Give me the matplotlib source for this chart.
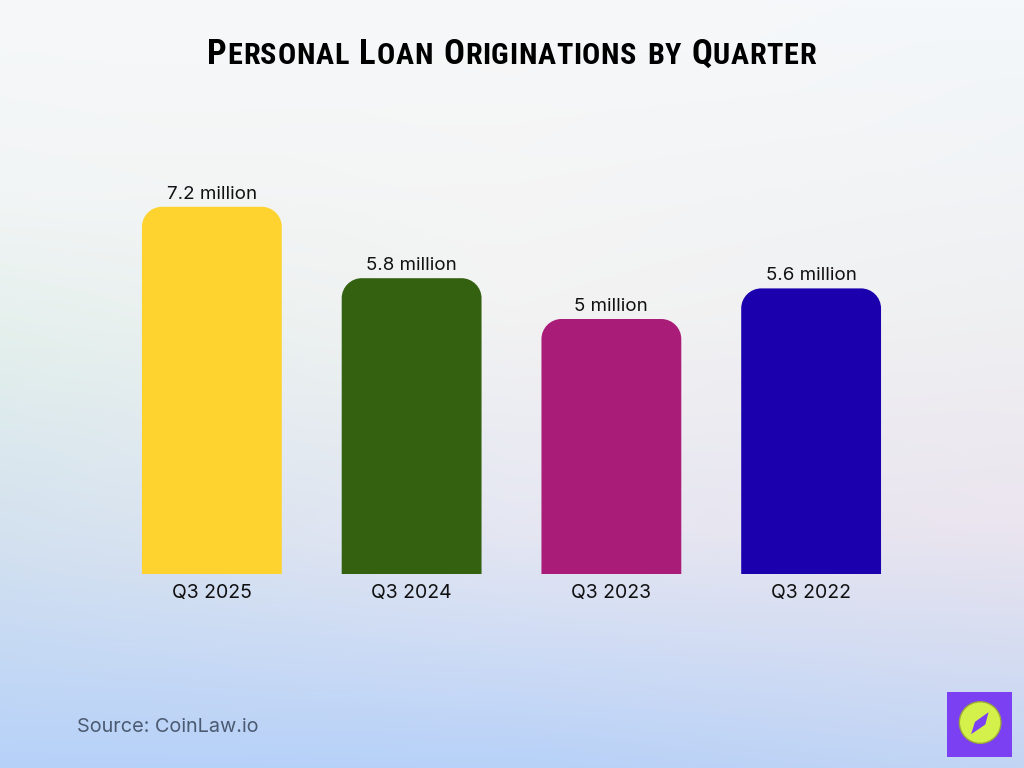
import numpy as np
import matplotlib
matplotlib.use("Agg")
import matplotlib.pyplot as plt
from matplotlib.patches import PathPatch, Circle, Polygon
from matplotlib.path import Path
from matplotlib.colors import to_rgb

# data
quarters = ["Q3 2025", "Q3 2024", "Q3 2023", "Q3 2022"]
originations = [7.2, 5.8, 5.0, 5.6]
value_labels = ["7.2 million", "5.8 million", "5 million", "5.6 million"]
bar_colors = ["#fed330", "#336110", "#a91d79", "#1b00ae"]

title = "Personal Loan Originations by Quarter"
source = "Source: CoinLaw.io"

W, H = 1024, 768
fig = plt.figure(figsize=(W / 100, H / 100), dpi=100)

# background gradient
def column(stops, n):
    ys = np.array([s[0] for s in stops])
    cols = np.array([to_rgb(s[1]) for s in stops])
    t = np.linspace(0, 1, n)
    return np.stack([np.interp(t, ys, cols[:, k]) for k in range(3)], axis=1)

left_col = column([(0, "#f6f8fa"), (0.25, "#f2f5f5"), (0.45, "#e3efec"),
                   (0.72, "#d2e0f0"), (1, "#b6d1f9")], H)
mid_col = column([(0, "#f7f8f9"), (0.4, "#f3f3f3"), (0.7, "#e4e6f2"),
                  (1, "#b7d1f8")], H)
right_col = column([(0, "#f4f8fb"), (0.4, "#eff0f2"), (0.68, "#ebe5ef"),
                    (1, "#c2d5f4")], H)
tx = np.linspace(0, 1, W)[None, :, None]
wl = np.clip(1 - 2 * tx, 0, 1)
wr = np.clip(2 * tx - 1, 0, 1)
wm = 1 - wl - wr
bg = left_col[:, None, :] * wl + mid_col[:, None, :] * wm + right_col[:, None, :] * wr
bg_ax = fig.add_axes([0, 0, 1, 1])
bg_ax.imshow(bg, aspect="auto", extent=[0, 1, 0, 1])
bg_ax.axis("off")

# main bars
ax = fig.add_axes([112 / W, 1 - 574 / H, 799 / W, 424 / H])
ax.patch.set_alpha(0)
x = np.arange(len(quarters))
bars = ax.bar(x, originations, width=0.7, color=bar_colors)
ax.set_xlim(-0.5, 3.5)
ax.set_ylim(0, 424 / 51)

# swap each bar for one with rounded top corners
px_x = 799 / 4
px_y = 51
r = 20
rx = r / px_x
ry = r / px_y
k = 0.55
for b, c in zip(bars, bar_colors):
    b.set_visible(False)
    x0, w, h = b.get_x(), b.get_width(), b.get_height()
    x1 = x0 + w
    verts = [(x0, 0), (x0, h - ry),
             (x0, h - ry + k * ry), (x0 + rx - k * rx, h), (x0 + rx, h),
             (x1 - rx, h),
             (x1 - rx + k * rx, h), (x1, h - ry + k * ry), (x1, h - ry),
             (x1, 0), (x0, 0)]
    codes = [Path.MOVETO, Path.LINETO,
             Path.CURVE4, Path.CURVE4, Path.CURVE4,
             Path.LINETO,
             Path.CURVE4, Path.CURVE4, Path.CURVE4,
             Path.LINETO, Path.CLOSEPOLY]
    ax.add_patch(PathPatch(Path(verts, codes), fc=c, ec="none"))

for xi, v, lab in zip(x, originations, value_labels):
    ax.annotate(lab, (xi, v), xytext=(0, 3), textcoords="offset points",
                ha="center", va="bottom", fontsize=13.5, family="Inter",
                color="#111111")

ax.set_xticks(x)
ax.set_xticklabels(quarters, fontsize=14, family="Inter", color="#111111")
ax.tick_params(axis="x", length=0, pad=7)
ax.set_yticks([])
for s in ax.spines.values():
    s.set_visible(False)

# small caps title, drawn letter by letter with a little tracking
renderer = fig.canvas.get_renderer()
title_fam = ["Roboto Condensed", "Liberation Sans Narrow", "DejaVu Sans"]
pieces = []
for word in title.split(" "):
    for i, ch in enumerate(word):
        pieces.append((ch.upper(), i == 0 and ch.isupper()))
    pieces.append((" ", True))
pieces = pieces[:-1]
target = 816 - 207

def measure(big, small):
    ws = []
    for ch, is_big in pieces:
        t = fig.text(0, 0, ch if ch != " " else "I", fontsize=big if is_big else small,
                     family=title_fam, fontstretch="condensed",
                     fontweight="bold")
        ws.append(t.get_window_extent(renderer).width)
        t.remove()
    return ws

big, small = 27.0, 23.5
widths = measure(big, small)
gap = (target - sum(widths)) / (len(pieces) - 1)
while gap < 0.5:
    big *= 0.98
    small *= 0.98
    widths = measure(big, small)
    gap = (target - sum(widths)) / (len(pieces) - 1)

cur = 207
for (ch, is_big), w in zip(pieces, widths):
    if ch != " ":
        fig.text(cur / W, 1 - 64 / H, ch, fontsize=big if is_big else small,
                 family=title_fam, fontstretch="condensed",
                 fontweight="bold", color="#000000")
    cur += w + gap

# source
fig.text(77 / W, 1 - 732 / H, source, fontsize=14.3, family="Inter",
         color="#4b5a70")

# logo
lax = fig.add_axes([947 / W, 1 - 757 / H, 65 / W, 65 / H])
lax.set_xlim(0, 1)
lax.set_ylim(0, 1)
lax.set_facecolor("#7a40f2")
for s in lax.spines.values():
    s.set_visible(False)
lax.set_xticks([])
lax.set_yticks([])
lax.add_patch(Circle((0.51, 0.53), 0.32, fc="#d4f04a", ec="#9aa83a", lw=1))
lax.add_patch(Polygon([(0.64, 0.69), (0.59, 0.50), (0.37, 0.35), (0.43, 0.54)],
                      closed=True, fc="#7a40f2", ec="none"))

fig.savefig("out.png", dpi=100)
